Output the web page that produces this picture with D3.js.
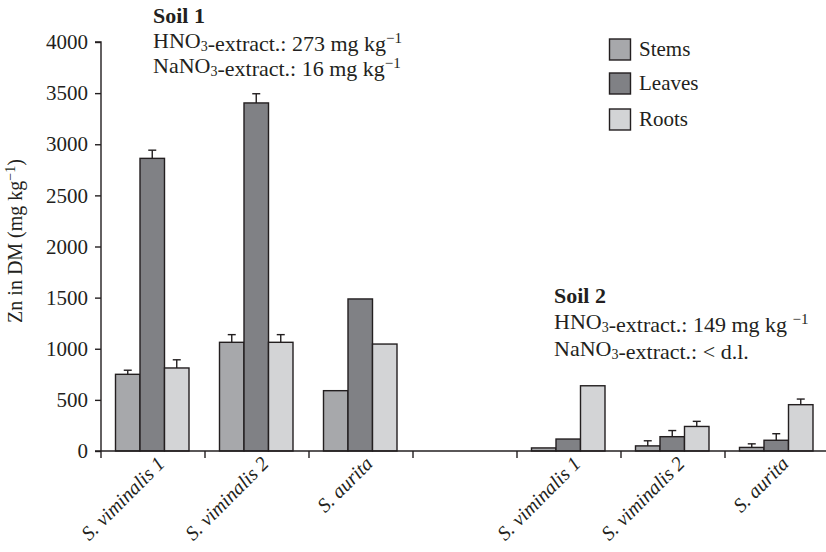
<!DOCTYPE html>
<html><head><meta charset="utf-8">
<script src="https://cdn.jsdelivr.net/npm/d3@7"></script>
<style>
html,body{margin:0;padding:0;background:#fff;}
svg text{font-family:"Liberation Serif","Times New Roman",serif;fill:#231f20;}
</style></head>
<body><svg id="chart" width="826" height="552"></svg>
<script>
// ---- data ----
const categories = ["S. viminalis 1","S. viminalis 2","S. aurita","","S. viminalis 1","S. viminalis 2","S. aurita"];
const seriesNames = ["Stems","Leaves","Roots"];
const stems  = [750, 1063, 590, null, 30, 50, 35];
const leaves = [2862, 3404, 1487, null, 117, 140, 105];
const roots  = [812, 1063, 1046, null, 638, 240, 453];
const stemsErr  = [40, 75, null, null, null, 50, 35];
const leavesErr = [80, 90, null, null, null, 60, 64];
const rootsErr  = [80, 75, null, null, null, 50, 55];
const yTicks = [0, 500, 1000, 1500, 2000, 2500, 3000, 3500, 4000];
const colors = ["#a7a8ab", "#808185", "#d3d4d6"];

const values = [stems, leaves, roots];
const errs = [stemsErr, leavesErr, rootsErr];

const svg = d3.select("#chart");
const FS = 22;
const ink = "#231f20";

const x = d3.scaleBand().domain(d3.range(categories.length)).range([101, 829]).padding(0);
const xs = d3.scaleBand().domain(d3.range(3)).range([14.5, 88]).padding(0);
const y = d3.scaleLinear().domain([0, 4000]).range([451, 42]);

// bars
const g = svg.append("g");
values.forEach((arr, si) => {
  arr.forEach((v, ci) => {
    if (v == null) return;
    const bx = x(ci) + xs(si);
    const bw = xs.bandwidth();
    g.append("rect")
      .attr("x", bx).attr("y", y(v))
      .attr("width", bw).attr("height", y(0) - y(v))
      .attr("fill", colors[si]).attr("stroke", ink).attr("stroke-width", 1.4);
    const e = errs[si][ci];
    if (e != null) {
      const cx = bx + bw / 2;
      g.append("line").attr("x1", cx).attr("x2", cx).attr("y1", y(v)).attr("y2", y(v + e))
        .attr("stroke", ink).attr("stroke-width", 1.4);
      g.append("line").attr("x1", cx - 4).attr("x2", cx + 4).attr("y1", y(v + e)).attr("y2", y(v + e))
        .attr("stroke", ink).attr("stroke-width", 1.4);
    }
  });
});

// y axis
const yAxis = d3.axisLeft(y).tickValues(yTicks).tickSize(6).tickPadding(7).tickFormat(d3.format("d"));
const ya = svg.append("g").attr("transform", "translate(101,0)").call(yAxis);
ya.select(".domain").attr("stroke", ink).attr("stroke-width", 1.4).attr("d", "M-6,42H0V451");
ya.selectAll(".tick line").attr("stroke", ink).attr("stroke-width", 1.4);
ya.selectAll(".tick text").attr("font-size", 21).attr("font-family", "Liberation Serif").attr("fill", ink);

// x axis
svg.append("line").attr("x1", 95).attr("x2", 826).attr("y1", 451).attr("y2", 451)
  .attr("stroke", ink).attr("stroke-width", 1.6);
const bounds = d3.range(categories.length + 1).map(i => i < categories.length ? x(i) : x.range()[1]);
bounds.forEach(bx => {
  if (bx > 826) return;
  svg.append("line").attr("x1", bx).attr("x2", bx).attr("y1", 451).attr("y2", 458)
    .attr("stroke", ink).attr("stroke-width", 1.4);
});
categories.forEach((c, i) => {
  if (!c) return;
  const cx = x(i) + x.bandwidth() / 2 + 3;
  svg.append("text")
    .attr("transform", `translate(${cx},455) rotate(-45)`)
    .attr("text-anchor", "end").attr("dy", "0.7em")
    .attr("font-size", 20).attr("font-style", "italic")
    .text(c);
});

// y axis title
const yt = svg.append("text")
  .attr("transform", "translate(22,241) rotate(-90)")
  .attr("text-anchor", "middle").attr("font-size", 20);
yt.append("tspan").text("Zn in DM (mg kg");
yt.append("tspan").attr("dy", -7).attr("font-size", 14).text("−1");
yt.append("tspan").attr("dy", 7).text(")");

// annotation helper
function chemLine(xp, yp, parts) {
  const t = svg.append("text").attr("x", xp).attr("y", yp).attr("font-size", FS);
  parts.forEach(p => {
    if (p.sub) { t.append("tspan").attr("dy", 3).attr("font-size", 14).text(p.sub); t.append("tspan").attr("dy", -3).text(""); }
    else if (p.sup) { t.append("tspan").attr("dy", -8).attr("font-size", 15).text(p.sup); t.append("tspan").attr("dy", 8).text(""); }
    else t.append("tspan").text(p.t);
  });
  return t;
}
svg.append("text").attr("x", 153).attr("y", 23).attr("font-size", FS).attr("font-weight", "bold").text("Soil 1");
chemLine(153, 48, [{t:"HNO"},{sub:"3"},{t:"-extract.: 273 mg kg"},{sup:"−1"}]);
chemLine(153, 73, [{t:"NaNO"},{sub:"3"},{t:"-extract.: 16 mg kg"},{sup:"−1"}]);

svg.append("text").attr("x", 554).attr("y", 303).attr("font-size", FS).attr("font-weight", "bold").text("Soil 2");
chemLine(554, 329, [{t:"HNO"},{sub:"3"},{t:"-extract.: 149 mg kg "},{sup:"−1"}]);
chemLine(554, 356, [{t:"NaNO"},{sub:"3"},{t:"-extract.: < d.l."}]);

// legend
const legY = [39, 73, 109];
seriesNames.forEach((n, i) => {
  svg.append("rect").attr("x", 609.5).attr("y", legY[i]).attr("width", 21).attr("height", 21)
    .attr("fill", colors[i]).attr("stroke", ink).attr("stroke-width", 1.4);
  svg.append("text").attr("x", 639).attr("y", legY[i] + 17).attr("font-size", 21).text(n);
});
</script></body></html>
